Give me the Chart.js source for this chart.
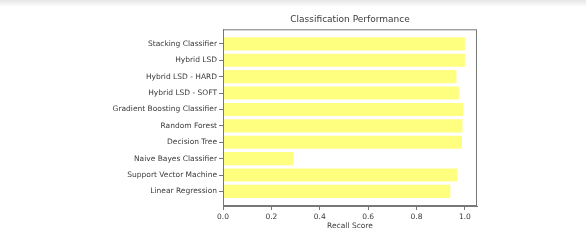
<!DOCTYPE html>
<html>
<head>
    <title>Classification Performance</title>
    <script src="https://cdn.jsdelivr.net/npm/chart.js"></script>
    <style>
        body { margin: 0; background: #fff; }
        #wrap { position: relative; width: 586px; height: 249px; }
        #shade {
            position: absolute; left: 0; top: 0; width: 586px; height: 7px;
            background: linear-gradient(#e6e6e6, #ffffff);
        }
        canvas { position: absolute; left: 0; top: 0; }
    </style>
</head>
<body>
    <div id="wrap">
        <div id="shade"></div>
        <canvas id="perfChart" width="586" height="249"></canvas>
    </div>

    <script>
        // bottom to top, like matplotlib barh
        const models = [
            'Linear Regression',
            'Support Vector Machine',
            'Naive Bayes Classifier',
            'Decision Tree',
            'Random Forest',
            'Gradient Boosting Classifier',
            'Hybrid LSD - SOFT',
            'Hybrid LSD - HARD',
            'Hybrid LSD',
            'Stacking Classifier'
        ];
        const recall = [0.94, 0.968, 0.29, 0.988, 0.99, 0.993, 0.975, 0.965, 1.0, 1.0];
        const xTicks = [0.0, 0.2, 0.4, 0.6, 0.8, 1.0];

        const textColor = '#3a3a3a';
        const frameColor = '#777';
        const font = { family: 'DejaVu Sans', size: 7.5 };

        // full box around the plot, like the matplotlib frame
        const framePlugin = {
            id: 'frame',
            afterDraw(chart) {
                const a = chart.chartArea;
                const c = chart.ctx;
                c.save();
                c.strokeStyle = frameColor;
                c.lineWidth = 1;
                c.strokeRect(a.left + 0.5, a.top + 0.5, a.right - a.left - 1, a.bottom - a.top - 1);
                c.restore();
            }
        };

        const ctx = document.getElementById('perfChart').getContext('2d');
        new Chart(ctx, {
            type: 'bar',
            data: {
                datasets: [{
                    data: recall.map((v, i) => ({ x: v, y: i })),
                    backgroundColor: 'rgba(255, 255, 0, 0.5)',
                    borderWidth: 0,
                    categoryPercentage: 1,
                    barPercentage: 0.8
                }]
            },
            options: {
                indexAxis: 'y',
                responsive: false,
                animation: false,
                layout: { padding: { left: 0, right: 109, top: 0, bottom: 18 } },
                plugins: {
                    legend: { display: false },
                    tooltip: { enabled: false },
                    title: {
                        display: true,
                        text: 'Classification Performance',
                        fullSize: false,
                        color: textColor,
                        font: { family: 'DejaVu Sans', size: 9, weight: 'normal' },
                        padding: { top: 14.6, bottom: 3.9 }
                    }
                },
                scales: {
                    x: {
                        type: 'linear',
                        min: 0,
                        max: 1.05,
                        afterFit(scale) { scale.height = 25; },
                        afterBuildTicks(scale) { scale.ticks = xTicks.map(v => ({ value: v })); },
                        ticks: {
                            color: textColor,
                            font: font,
                            padding: 3,
                            maxRotation: 0,
                            callback: v => v.toFixed(1)
                        },
                        grid: { drawOnChartArea: false, tickLength: 4, color: frameColor },
                        border: { color: frameColor },
                        title: {
                            display: true,
                            text: 'Recall Score',
                            color: textColor,
                            font: font,
                            padding: { top: 0, bottom: 0 }
                        }
                    },
                    y: {
                        type: 'linear',
                        min: -0.89,
                        max: 9.89,
                        offset: false,
                        afterFit(scale) { scale.width = 223; },
                        afterBuildTicks(scale) { scale.ticks = models.map((m, i) => ({ value: i })); },
                        ticks: {
                            color: textColor,
                            font: font,
                            padding: 2,
                            callback: v => models[v]
                        },
                        grid: { drawOnChartArea: false, offset: false, tickLength: 4, color: frameColor },
                        border: { color: frameColor }
                    }
                }
            },
            plugins: [framePlugin]
        });
    </script>
</body>
</html>
